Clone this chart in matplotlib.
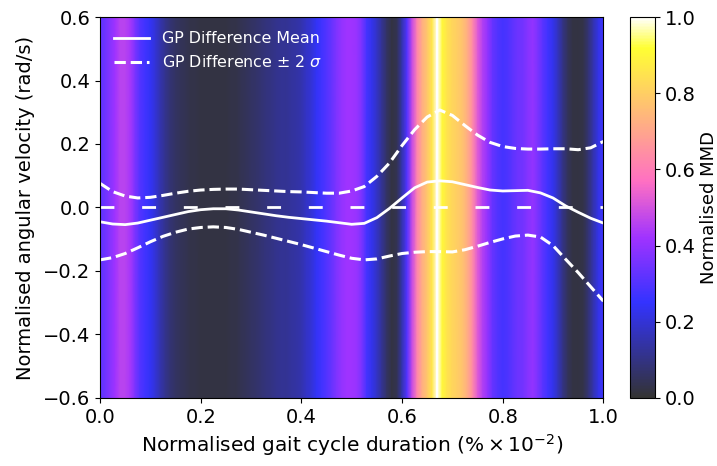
import numpy as np
import matplotlib
matplotlib.use("Agg")
import matplotlib.pyplot as plt
from matplotlib.colors import ListedColormap


# MMD along the gait cycle, sampled every 0.01
mmd_vals = [
    0.32, 0.34, 0.38, 0.42, 0.46, 0.46, 0.43, 0.36, 0.30, 0.27,
    0.24, 0.20, 0.15, 0.11, 0.08, 0.06, 0.05, 0.04, 0.03, 0.03,
    0.02, 0.02, 0.02, 0.02, 0.02, 0.02, 0.03, 0.03, 0.04, 0.05,
    0.06, 0.07, 0.08, 0.09, 0.10, 0.11, 0.12, 0.12, 0.13, 0.14,
    0.15, 0.18, 0.20, 0.24, 0.27, 0.30, 0.33, 0.37, 0.40, 0.42,
    0.42, 0.41, 0.36, 0.28, 0.23, 0.18, 0.12, 0.06, 0.02, 0.04,
    0.15, 0.30, 0.48, 0.62, 0.72, 0.78, 0.86, 1.00, 0.90, 0.85,
    0.82, 0.80, 0.77, 0.72, 0.64, 0.52, 0.45, 0.40, 0.33, 0.30,
    0.28, 0.29, 0.32, 0.34, 0.35, 0.38, 0.40, 0.36, 0.31, 0.27,
    0.23, 0.17, 0.10, 0.05, 0.02, 0.02, 0.03, 0.08, 0.15, 0.22,
    0.27,
]

# GP difference curves, sampled every 0.025
gp_mean = [
    -0.045, -0.052, -0.054, -0.049, -0.040, -0.031, -0.022, -0.013, -0.007, -0.004,
    -0.004, -0.008, -0.014, -0.020, -0.026, -0.031, -0.035, -0.039, -0.043, -0.048,
    -0.053, -0.050, -0.032, -0.003, 0.030, 0.062, 0.080, 0.084, 0.081, 0.072,
    0.063, 0.055, 0.052, 0.053, 0.054, 0.046, 0.030, 0.005, -0.015, -0.034,
    -0.049,
]
gp_upper = [
    0.076, 0.050, 0.036, 0.030, 0.032, 0.038, 0.045, 0.051, 0.055, 0.057,
    0.058, 0.058, 0.056, 0.054, 0.052, 0.050, 0.049, 0.047, 0.045, 0.045,
    0.052, 0.066, 0.098, 0.140, 0.195, 0.245, 0.285, 0.307, 0.290, 0.258,
    0.228, 0.205, 0.192, 0.186, 0.184, 0.184, 0.185, 0.185, 0.182, 0.188,
    0.208,
]
gp_lower = [
    -0.165, -0.158, -0.145, -0.127, -0.108, -0.091, -0.078, -0.068, -0.063, -0.061,
    -0.063, -0.069, -0.078, -0.087, -0.097, -0.107, -0.117, -0.128, -0.139, -0.150,
    -0.160, -0.165, -0.162, -0.153, -0.145, -0.141, -0.139, -0.139, -0.140, -0.133,
    -0.122, -0.110, -0.099, -0.090, -0.087, -0.093, -0.120, -0.163, -0.205, -0.250,
    -0.295,
]

x_mmd = np.linspace(0, 1, len(mmd_vals))
x_gp = np.linspace(0, 1, len(gp_mean))

# gnuplot2 faded towards white (alpha 0.8 look)
base = plt.get_cmap("gnuplot2")(np.linspace(0, 1, 256))
base[:, :3] = base[:, :3] * 0.8 + 0.2
cmap = ListedColormap(base)

fig = plt.figure(figsize=(7.17, 4.66), dpi=100)
ax = fig.add_axes([0.1395, 0.146, 0.702, 0.8175])
cax = fig.add_axes([0.879, 0.146, 0.035, 0.8175])

mmd = np.array(mmd_vals)
C = np.vstack([mmd, mmd])
mesh = ax.pcolormesh(x_mmd, [-0.6, 0.6], C, shading="gouraud", cmap=cmap,
                     vmin=0, vmax=1, rasterized=True)
ax.axvline(x_mmd[np.argmax(mmd)], color="white", lw=1.3)

ax.axhline(0, color="white", lw=2, linestyle=(0, (5, 10)))
ax.plot(x_gp, gp_mean, color="white", lw=2, label="GP Difference Mean")
ax.plot(x_gp, gp_upper, color="white", lw=2.2, linestyle="--",
        label=r"GP Difference $\pm$ 2 $\sigma$")
ax.plot(x_gp, gp_lower, color="white", lw=2.2, linestyle="--")

ax.set_xlim(0, 1)
ax.set_ylim(-0.6, 0.6)
ax.set_xticks([0.0, 0.2, 0.4, 0.6, 0.8, 1.0])
ax.set_yticks([-0.6, -0.4, -0.2, 0.0, 0.2, 0.4, 0.6])
ax.tick_params(labelsize=14)
ax.set_xlabel(r"Normalised gait cycle duration ($\%\times10^{-2}$)", fontsize=14.5)
ax.set_ylabel("Normalised angular velocity (rad/s)", fontsize=14, labelpad=6)

leg = ax.legend(loc="upper left", frameon=False, fontsize=11.4,
                labelcolor="white", handlelength=2.2)

cb = fig.colorbar(mesh, cax=cax)
cb.set_ticks([0.0, 0.2, 0.4, 0.6, 0.8, 1.0])
cb.ax.tick_params(labelsize=14)
cb.set_label("Normalised MMD", fontsize=13, labelpad=3)

fig.savefig("out.png", dpi=100)
